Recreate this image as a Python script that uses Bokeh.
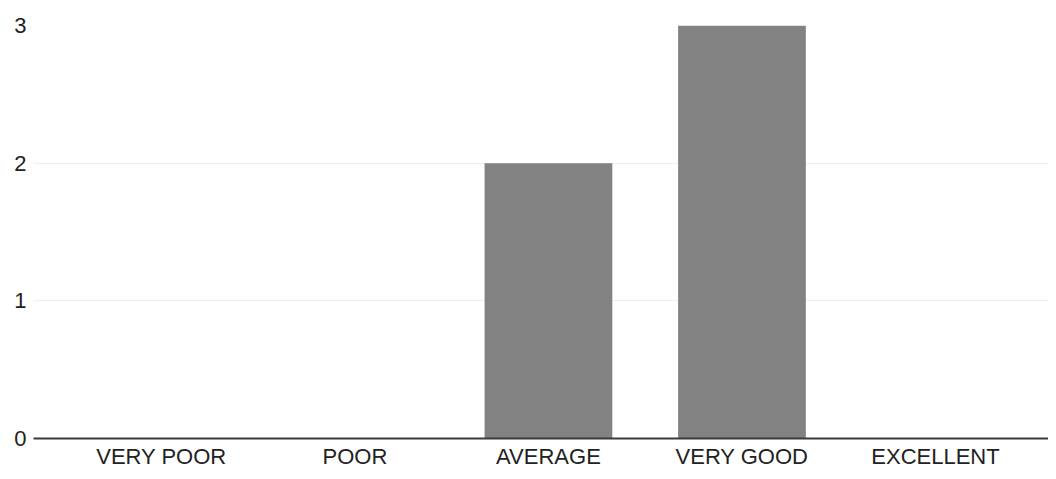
from bokeh.plotting import figure
from bokeh.models import Range1d, FixedTicker, ColumnDataSource
from bokeh.embed import file_html
from bokeh.resources import INLINE

categories = ["VERY POOR", "POOR", "AVERAGE", "VERY GOOD", "EXCELLENT"]
counts = [0, 0, 2, 3, 0]
y_ticks = [0, 1, 2, 3]

positions = list(range(len(categories)))
source = ColumnDataSource(data=dict(x=positions, top=counts, label=categories))

p = figure(width=1048, height=471, output_backend="svg", toolbar_location=None,
           x_range=Range1d(-0.661, 4.584), y_range=Range1d(0, 3),
           min_border_left=33, min_border_right=0, min_border_top=25, min_border_bottom=32)

p.vbar(x="x", top="top", bottom=0, width=0.66, source=source,
       fill_color="#828282", line_color=None)

p.outline_line_color = None
p.background_fill_color = "white"
p.border_fill_color = "white"

# x axis
p.xaxis.ticker = FixedTicker(ticks=positions)
p.xaxis.major_label_overrides = {i: c for i, c in zip(positions, categories)}
p.xaxis.axis_line_color = "#3a3a3a"
p.xaxis.axis_line_width = 2
p.xaxis.major_tick_line_color = None
p.xaxis.minor_tick_line_color = None
p.xaxis.major_tick_out = 0
p.xaxis.major_tick_in = 0
p.xaxis.major_label_standoff = 5
p.xaxis.major_label_text_font = "Liberation Sans"
p.xaxis.major_label_text_font_size = "22px"
p.xaxis.major_label_text_color = "#222222"

# y axis
p.yaxis.ticker = FixedTicker(ticks=y_ticks)
p.yaxis.axis_line_color = None
p.yaxis.major_tick_line_color = None
p.yaxis.minor_tick_line_color = None
p.yaxis.major_tick_out = 0
p.yaxis.major_tick_in = 0
p.yaxis.major_label_standoff = 7
p.yaxis.major_label_text_font = "Liberation Sans"
p.yaxis.major_label_text_font_size = "22px"
p.yaxis.major_label_text_color = "#222222"

p.xgrid.grid_line_color = None
p.ygrid.ticker = FixedTicker(ticks=[1, 2, 3])
p.ygrid.grid_line_color = "#eeeeee"
p.ygrid.grid_line_width = 1

open("out.html", "w").write(file_html(p, INLINE))
